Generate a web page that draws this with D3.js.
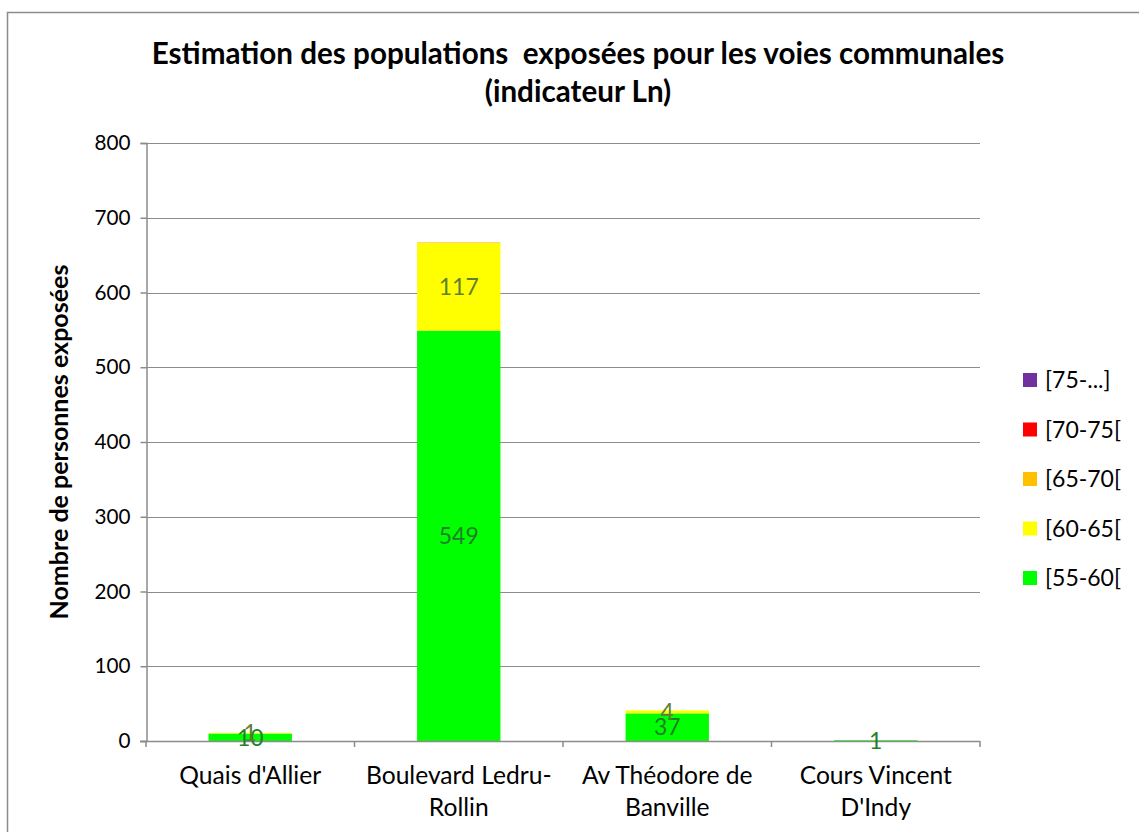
<!DOCTYPE html>
<html><head><meta charset="utf-8">
<script src="https://cdn.jsdelivr.net/npm/d3@7"></script>
<style>body{margin:0;background:#fff;}svg{display:block;}</style>
</head><body>
<svg id="chart" width="1139" height="832"></svg>
<script>
const categories = [["Quais d'Allier"], ["Boulevard Ledru-", "Rollin"], ["Av Théodore de", "Banville"], ["Cours Vincent", "D'Indy"]];
const seriesNames = ["[55-60[", "[60-65[", "[65-70[", "[70-75[", "[75-...]"];
const s55_60 = [10, 549, 37, 1];
const s60_65 = [1, 117, 4, 0];
const s65_70 = [0, 1, 0, 0];
const s70_75 = [0, 0, 0, 0];
const s75 = [0, 0, 0, 0];
const yTicks = [0, 100, 200, 300, 400, 500, 600, 700, 800];
const colors = ["#00ff00", "#ffff00", "#ffc000", "#ff0000", "#7030a0"];
const labelColors = ["#1f7f2a", "#5f8030", null, null, null];

const seriesValues = [s55_60, s60_65, s65_70, s70_75, s75];
const font = "Lato, sans-serif";
const svg = d3.select("#chart");

function fitSize(sel, target) {
  const base = 20;
  sel.attr("font-size", base);
  const w = sel.node().getComputedTextLength();
  return base * target / w;
}

// border
svg.append("rect").attr("x", 7.5).attr("y", 12.5).attr("width", 1200).attr("height", 900)
  .attr("fill", "none").attr("stroke", "#8c8c8c").attr("stroke-width", 1.5);

const plot = {left: 146, right: 980, top: 143, bottom: 741};
const y = d3.scaleLinear().domain([0, 800]).range([plot.bottom, plot.top]);
const x = d3.scaleBand().domain(d3.range(categories.length)).range([plot.left, plot.right]).paddingInner(0.6).paddingOuter(0.3);
const xb = d3.scaleBand().domain(d3.range(categories.length)).range([plot.left, plot.right]);

// gridlines
svg.append("g").selectAll("line").data(yTicks.filter(d => d > 0)).join("line")
  .attr("x1", plot.left).attr("x2", plot.right)
  .attr("y1", d => Math.round(y(d)) + 0.5).attr("y2", d => Math.round(y(d)) + 0.5)
  .attr("stroke", "#8c8c8c").attr("stroke-width", 1);

// y axis
const yAxis = svg.append("g").attr("transform", `translate(${plot.left + 0.5},0)`)
  .call(d3.axisLeft(y).tickValues(yTicks).tickSize(6).tickPadding(10));
yAxis.select(".domain").attr("stroke", "#8c8c8c").attr("stroke-width", 1.5);
yAxis.selectAll(".tick line").attr("stroke", "#8c8c8c").attr("stroke-width", 1.5);
yAxis.selectAll("text").attr("font-family", font).attr("fill", "#000");
const tickSize = fitSize(yAxis.selectAll("text").filter(d => d === 800), 36);
yAxis.selectAll("text").attr("font-size", tickSize);

// stacked data
const table = categories.map((c, i) => {
  const o = {i};
  seriesNames.forEach((s, k) => o[s] = seriesValues[k][i]);
  return o;
});
const stack = d3.stack().keys(seriesNames)(table);

const barsG = svg.append("g");
stack.forEach((layer, k) => {
  barsG.selectAll(null).data(layer.filter(d => d[1] - d[0] > 0)).join("rect")
    .attr("x", d => x(d.data.i))
    .attr("width", x.bandwidth())
    .attr("y", d => y(d[1]))
    .attr("height", d => y(d[0]) - y(d[1]))
    .attr("fill", colors[k]);
});

// x axis
const xAxisG = svg.append("g");
xAxisG.append("line").attr("x1", plot.left - 6).attr("x2", plot.right).attr("y1", plot.bottom + 0.5).attr("y2", plot.bottom + 0.5)
  .attr("stroke", "#8c8c8c").attr("stroke-width", 1.5);
const bounds = d3.range(categories.length).map(i => xb(i)).concat([plot.right]);
xAxisG.selectAll(".tk").data(bounds).join("line")
  .attr("x1", d => d).attr("x2", d => d).attr("y1", plot.bottom).attr("y2", plot.bottom + 6)
  .attr("stroke", "#8c8c8c").attr("stroke-width", 1.5);
const catTexts = [];
categories.forEach((lines, i) => {
  const t = xAxisG.append("text").attr("text-anchor", "middle").attr("font-family", font).attr("fill", "#000");
  lines.forEach((ln, j) => t.append("tspan").attr("x", xb(i) + xb.bandwidth() / 2).attr("y", 784 + j * 32).text(ln));
  catTexts.push(t);
});
const catSize = fitSize(catTexts[0], 142);
catTexts.forEach(t => t.attr("font-size", catSize));

// data labels
let labelSize = null;
stack.forEach((layer, k) => {
  if (!labelColors[k]) return;
  const g = svg.append("g").attr("font-family", font).attr("text-anchor", "middle").attr("fill", labelColors[k]);
  const txt = g.selectAll("text").data(layer.filter(d => d[1] - d[0] > 0)).join("text")
    .text(d => d[1] - d[0]);
  if (labelSize === null) labelSize = fitSize(txt.filter(d => d[1] - d[0] === 549), 40);
  txt.attr("font-size", labelSize)
    .attr("x", d => x(d.data.i) + x.bandwidth() / 2)
    .attr("y", d => (y(d[0]) + y(d[1])) / 2 + labelSize * 0.36);
});

// title
const title = svg.append("text").attr("text-anchor", "middle").attr("font-family", font).attr("font-weight", "bold").attr("fill", "#000");
title.append("tspan").attr("x", 578).attr("y", 64).attr("xml:space", "preserve").text("Estimation des populations  exposées pour les voies communales");
title.append("tspan").attr("x", 578).attr("y", 102).text("(indicateur Ln)");
const tmp = svg.append("text").attr("font-family", font).attr("font-weight", "bold").attr("xml:space", "preserve").text("Estimation des populations  exposées pour les voies communales");
const titleSize = fitSize(tmp, 853);
tmp.remove();
title.attr("font-size", titleSize);

// y label
const yl = svg.append("text").attr("transform", "translate(68,442) rotate(-90)").attr("text-anchor", "middle")
  .attr("font-family", font).attr("font-weight", "bold").attr("fill", "#000")
  .text("Nombre de personnes exposées");
yl.attr("font-size", fitSize(yl, 355));

// legend
const legendOrder = d3.range(seriesNames.length).reverse();
const lg = svg.append("g");
const legTexts = [];
legendOrder.forEach((k, r) => {
  const yy = 380 + r * 49.5;
  lg.append("rect").attr("x", 1023).attr("y", yy - 7).attr("width", 14).attr("height", 14).attr("fill", colors[k]);
  legTexts.push(lg.append("text").attr("x", 1045).attr("y", yy + 8).attr("font-family", font).attr("fill", "#000").text(seriesNames[k]));
});
const legSize = fitSize(legTexts[4], 76);
legTexts.forEach(t => t.attr("font-size", legSize));
</script>
</body></html>
